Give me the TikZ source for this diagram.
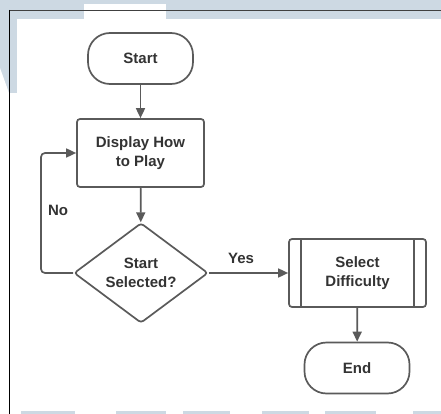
\documentclass[tikz,border=0pt]{standalone}
\usepackage{fontspec}
\setmainfont{Liberation Sans}
\usetikzlibrary{arrows.meta,shapes.geometric}

\definecolor{pageblue}{RGB}{205,217,227}
\definecolor{linegray}{RGB}{90,90,90}
\definecolor{textgray}{RGB}{51,51,51}

\tikzset{
  shapeline/.style={draw=linegray, line width=1.7pt, fill=white},
  label/.style={font=\fontsize{15}{18.5}\selectfont\bfseries, text=textgray, align=center},
  terminal/.style={shapeline, label, rectangle, rounded corners=22pt,
    minimum width=105pt, minimum height=51pt, inner sep=0pt},
  process/.style={shapeline, label, rectangle, rounded corners=3pt,
    minimum width=127pt, minimum height=68pt, inner sep=0pt},
  subproc/.style={shapeline, label, rectangle, rounded corners=3pt,
    minimum width=137pt, minimum height=68pt, inner sep=0pt},
  decision/.style={shapeline, label, diamond, rounded corners=3pt,
    minimum width=134pt, minimum height=100pt, inner sep=0pt},
  flow/.style={draw=linegray, line width=1.7pt,
    -{Triangle[length=10pt,width=9pt]}},
  tag/.style={font=\fontsize{15}{18.5}\selectfont\bfseries, text=textgray}
}

\begin{document}
\begin{tikzpicture}[x=1pt, y=-1pt]
\useasboundingbox (0,0) rectangle (441,414);

% page background and pasted sheet
\fill[pageblue] (0,0) rectangle (441,414);
\fill[white] (9,10) rectangle (441,414);
\fill[white] (0,68) -- (9,93) -- (9,414) -- (0,414) -- cycle;
\fill[white] (84,4) rectangle (166,19);
\fill[pageblue] (9,10) rectangle (84,19);
\fill[pageblue] (166,10) rectangle (441,19);
\fill[pageblue] (9,19) rectangle (17,93);
\foreach \a/\b in {21/75,116/166,183/230,262/309,325/376,413/441}
  \fill[pageblue] (\a,410.5) rectangle (\b,414);
\draw[draw=black!75, line width=1.2pt] (9,10.6) -- (441,10.6);
\draw[draw=black, line width=0.9pt] (9.5,10) -- (9.5,414);

% flowchart
\node[terminal] (start) at (140.5,58.5) {Start};
\node[process]  (disp)  at (140.5,153) {Display How\\to Play};
\node[decision] (dec)   at (141,273)   {Start\\Selected?};
\node[subproc]  (sel)   at (357.5,273) {Select\\Difficulty};
\node[terminal] (stop)  at (357,368)   {End};

\draw[linegray, line width=1.7pt]
  ([xshift=13pt]sel.north west) -- ([xshift=13pt]sel.south west)
  ([xshift=-13pt]sel.north east) -- ([xshift=-13pt]sel.south east);

\coordinate (back) at (41,153);

\draw[flow] (start) -- (disp);
\draw[flow] (disp) -- (dec);
\draw[flow, rounded corners=4pt] (dec.west) -| (back) -- (disp.west);
\draw[flow] (dec.east) -- (sel.west);
\draw[flow] (sel) -- (stop);

\node[tag] (no)  at (58,210)  {No};
\node[tag] (yes) at (241,258) {Yes};
\end{tikzpicture}
\end{document}
